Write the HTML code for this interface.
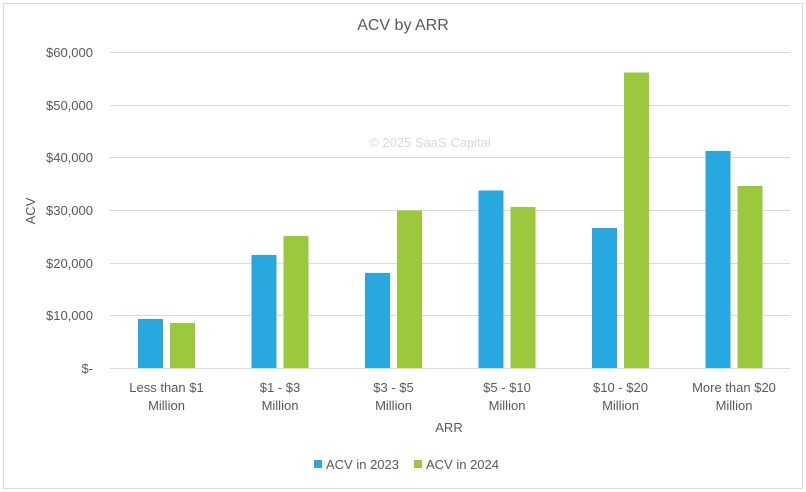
<!DOCTYPE html>
<html><head><meta charset="utf-8"><style>
html,body{margin:0;padding:0;background:#fff;}
svg{display:block;font-family:"Liberation Sans",sans-serif;}
</style></head><body>
<svg width="806" height="492" viewBox="0 0 806 492">
<rect x="3.5" y="3.5" width="799" height="485" fill="#fff" stroke="#d9d9d9"/>
<text x="403" y="30" text-anchor="middle" font-size="16" fill="#595959">ACV by ARR</text>
<g stroke="#d9d9d9" stroke-width="1">
<line x1="110" x2="790" y1="52.5" y2="52.5"/>
<line x1="110" x2="790" y1="105.5" y2="105.5"/>
<line x1="110" x2="790" y1="157.5" y2="157.5"/>
<line x1="110" x2="790" y1="210.5" y2="210.5"/>
<line x1="110" x2="790" y1="263.5" y2="263.5"/>
<line x1="110" x2="790" y1="315.5" y2="315.5"/>
<line x1="110" x2="790" y1="368.5" y2="368.5"/>
</g>
<g font-size="13" fill="#595959" text-anchor="end">
<text x="93" y="57">$60,000</text>
<text x="93" y="110">$50,000</text>
<text x="93" y="162">$40,000</text>
<text x="93" y="215">$30,000</text>
<text x="93" y="268">$20,000</text>
<text x="93" y="320">$10,000</text>
<text x="93" y="373">$-</text>
</g>
<text x="430" y="147" text-anchor="middle" font-size="13" fill="#d9d9d9">© 2025 SaaS Capital</text>
<g fill="#29a8e0">
<rect x="138" y="319" width="25" height="49"/>
<rect x="251.5" y="255" width="25" height="113"/>
<rect x="365" y="273" width="25" height="95"/>
<rect x="478.5" y="190.5" width="25" height="177.5"/>
<rect x="592" y="228" width="25" height="140"/>
<rect x="705.5" y="151" width="25" height="217"/>
</g>
<g fill="#9bc83c">
<rect x="170" y="323" width="25" height="45"/>
<rect x="283.5" y="236" width="25" height="132"/>
<rect x="397" y="210.5" width="25" height="157.5"/>
<rect x="510.5" y="207" width="25" height="161"/>
<rect x="624" y="72.5" width="25" height="295.5"/>
<rect x="737.5" y="186" width="25" height="182"/>
</g>
<g font-size="13" fill="#595959" text-anchor="middle">
<text x="166.5" y="392">Less than $1</text><text x="166.5" y="410">Million</text>
<text x="280" y="392">$1 - $3</text><text x="280" y="410">Million</text>
<text x="393.5" y="392">$3 - $5</text><text x="393.5" y="410">Million</text>
<text x="507" y="392">$5 - $10</text><text x="507" y="410">Million</text>
<text x="620.5" y="392">$10 - $20</text><text x="620.5" y="410">Million</text>
<text x="734" y="392">More than $20</text><text x="734" y="410">Million</text>
<text x="449" y="432">ARR</text>
<text transform="translate(35,211) rotate(-90)">ACV</text>
</g>
<rect x="314" y="460" width="8" height="8" fill="#29a8e0"/>
<text x="326" y="469" font-size="13" fill="#595959">ACV in 2023</text>
<rect x="414" y="460" width="8" height="8" fill="#9bc83c"/>
<text x="426" y="469" font-size="13" fill="#595959">ACV in 2024</text>
</svg>
</body></html>
